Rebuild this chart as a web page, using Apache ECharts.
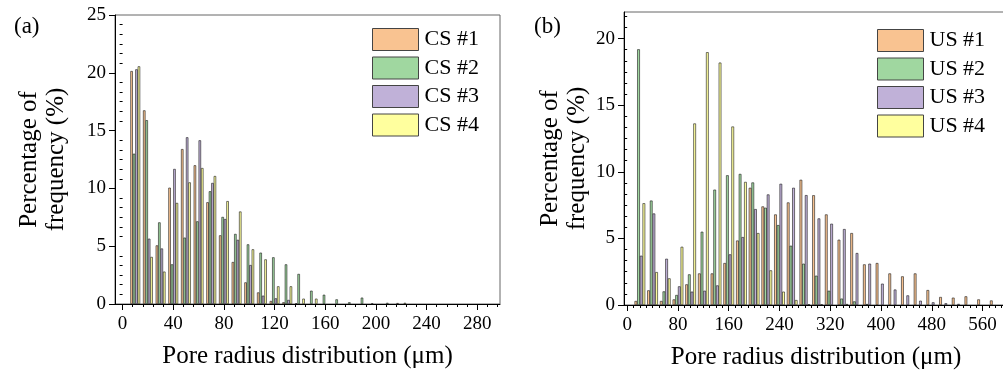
<!DOCTYPE html>
<html>
<head>
<meta charset="utf-8">
<script src="https://cdn.jsdelivr.net/npm/echarts@6/dist/echarts.min.js"></script>
<style>
  html, body { margin: 0; padding: 0; background: #fff; }
  #chart { width: 1003px; height: 373px; }
</style>
</head>
<body>
<div id="chart"></div>
<script>
// (a) CS samples, 10 um bins
const csBins = [10, 20, 30, 40, 50, 60, 70, 80, 90, 100, 110, 120, 130, 140, 150, 160, 170, 180, 190, 200, 210, 220]
const cs1 = [20.15, 16.75, 5.07, 10.06, 13.4, 12.0, 8.8, 5.94, 3.63, 1.87, 1.0, 0.26, 0.15, 0.06, 0, 0, 0, 0, 0, 0.05, 0, 0.08]
const cs2 = [13.0, 15.9, 7.06, 3.43, 5.74, 7.15, 9.75, 7.53, 6.06, 5.16, 4.44, 4.04, 3.43, 2.6, 1.15, 0.8, 0.4, 0.15, 0.55, 0, 0.1, 0]
const cs3 = [20.3, 5.65, 4.8, 11.68, 14.42, 14.16, 10.47, 7.35, 5.55, 3.37, 0.72, 0.49, 0.35, 0, 0, 0, 0, 0, 0, 0, 0, 0]
const cs4 = [20.56, 4.07, 2.8, 8.74, 10.52, 11.76, 11.07, 8.9, 8.0, 4.73, 3.86, 1.53, 1.53, 0.46, 0.46, 0, 0, 0, 0, 0, 0, 0.1]

// (b) US samples, 20 um bins
const usBins = [20, 40, 60, 80, 100, 120, 140, 160, 180, 200, 220, 240, 260, 280, 300, 320, 340, 360, 380, 400, 420, 440, 460, 480, 500, 520, 540, 560, 580]
const us1 = [0.3, 1.1, 0.3, 0.42, 1.55, 2.37, 2.37, 3.15, 4.84, 8.8, 7.4, 6.8, 7.7, 9.4, 8.24, 6.8, 4.9, 5.4, 3.05, 3.15, 2.37, 2.15, 2.37, 1.12, 0.6, 0.55, 0.65, 0.42, 0.34]
const us2 = [19.2, 7.84, 1.02, 0.75, 2.3, 5.5, 8.66, 9.74, 9.84, 9.2, 7.3, 6.0, 4.45, 3.1, 2.2, 1.07, 0.48, 0.27, 0.07, 0, 0, 0, 0, 0, 0, 0, 0, 0, 0]
const us3 = [3.7, 6.87, 3.47, 1.4, 1.0, 1.07, 1.47, 3.8, 5.1, 7.2, 8.3, 9.1, 8.8, 8.25, 6.5, 6.1, 5.7, 3.9, 3.1, 1.6, 1.16, 0.72, 0.32, 0.2, 0.13, 0.08, 0, 0, 0]
const us4 = [7.64, 2.47, 2.0, 4.37, 13.63, 18.98, 18.2, 13.4, 9.24, 5.4, 2.6, 1.0, 0.37, 0.05, 0.05, 0, 0.07, 0, 0, 0, 0, 0, 0, 0, 0, 0, 0, 0, 0]

const csRadiusTicks = [0, 40, 80, 120, 160, 200, 240, 280]
const usRadiusTicks = [0, 80, 160, 240, 320, 400, 480, 560]
const csPctTicks = [0, 5, 10, 15, 20, 25]
const usPctTicks = [0, 5, 10, 15, 20]

const csNames = ['CS #1', 'CS #2', 'CS #3', 'CS #4']
const usNames = ['US #1', 'US #2', 'US #3', 'US #4']
const colors = ['#f9c391', '#a0d7a0', '#c0b1d8', '#ffff9e']

const font = 'Liberation Serif, Times New Roman, serif'

// minor tick positions between the labelled ones
function minorValues(step, parts, max, majors) {
  const out = []
  for (let v = 0; v <= max + 1e-9; v += step / parts) {
    const r = Math.round(v * 1000) / 1000
    if (!majors.some((m) => Math.abs(m - r) < 1e-6)) out.push(r)
  }
  return out
}

function pairs(bins, values) {
  return bins.map((b, i) => [b, values[i]]).filter((p) => p[1] > 0)
}

function barSeries(name, bins, values, color, axisIndex, width) {
  return {
    name,
    type: 'bar',
    xAxisIndex: axisIndex,
    yAxisIndex: axisIndex,
    data: pairs(bins, values),
    barWidth: width,
    barGap: '0%',
    itemStyle: { color, borderColor: '#1a1a1a', borderWidth: 0.6 },
    emphasis: { disabled: true },
  }
}

function majorX(gridIndex, min, max, ticks) {
  return {
    type: 'value', gridIndex, min, max, position: 'bottom',
    name: 'Pore radius distribution (\u03bcm)',
    nameLocation: 'middle', nameGap: 40,
    nameTextStyle: { fontFamily: font, fontSize: 25, color: '#000' },
    axisLine: { show: true, onZero: false, lineStyle: { color: '#000', width: 1 } },
    axisTick: { show: true, length: 6, customValues: ticks, lineStyle: { color: '#000' } },
    axisLabel: { customValues: ticks, margin: 11, fontFamily: font, fontSize: 19, color: '#000' },
    splitLine: { show: false },
  }
}

function minorX(gridIndex, min, max, ticks) {
  return {
    type: 'value', gridIndex, min, max, position: 'bottom',
    axisLine: { show: false },
    axisTick: { show: true, length: 3, customValues: ticks, lineStyle: { color: '#000' } },
    axisLabel: { show: false },
    splitLine: { show: false },
  }
}

function majorY(gridIndex, max, ticks, nameGap) {
  return {
    type: 'value', gridIndex, min: 0, max, position: 'left',
    name: 'Percentage of\nfrequency (%)',
    nameLocation: 'middle', nameGap, nameRotate: 90,
    nameTextStyle: { fontFamily: font, fontSize: 25, color: '#000', lineHeight: 27 },
    axisLine: { show: true, onZero: false, lineStyle: { color: '#000', width: 1 } },
    axisTick: { show: true, length: 6, customValues: ticks, lineStyle: { color: '#000' } },
    axisLabel: { customValues: ticks, margin: 9, fontFamily: font, fontSize: 19, color: '#000' },
    splitLine: { show: false },
  }
}

function minorY(gridIndex, max, ticks) {
  return {
    type: 'value', gridIndex, min: 0, max, position: 'left',
    axisLine: { show: false },
    axisTick: { show: true, length: 3, customValues: ticks, lineStyle: { color: '#000' } },
    axisLabel: { show: false },
    splitLine: { show: false },
  }
}

function legendFor(names, left, top) {
  return {
    data: names, orient: 'vertical', left, top, padding: 0,
    icon: 'rect', itemWidth: 46, itemHeight: 22, itemGap: 5.5,
    itemStyle: { borderColor: '#444', borderWidth: 1 },
    textStyle: { fontFamily: font, fontSize: 22, color: '#000', padding: [0, 0, 0, 1] },
  }
}

const chart = echarts.init(document.getElementById('chart'), null, { renderer: 'canvas' })

chart.setOption({
  animation: false,
  backgroundColor: '#fff',
  title: [
    { text: '(a)', left: 9, top: 10, textStyle: { fontFamily: font, fontSize: 23, fontWeight: 'normal', color: '#000' } },
    { text: '(b)', left: 529, top: 10, textStyle: { fontFamily: font, fontSize: 23, fontWeight: 'normal', color: '#000' } },
  ],
  legend: [legendFor(csNames, 372, 28), legendFor(usNames, 877, 29)],
  grid: [
    { left: 115, top: 15, width: 385, height: 289, show: true, borderColor: '#666', borderWidth: 1, containLabel: false, outerBoundsMode: 'none' },
    { left: 624, top: 12, width: 384, height: 293, show: true, borderColor: '#666', borderWidth: 1, containLabel: false, outerBoundsMode: 'none' },
  ],
  xAxis: [
    majorX(0, -6, 298, csRadiusTicks),
    minorX(0, -6, 298, minorValues(40, 5, 296, csRadiusTicks)),
    majorX(1, -5, 600, usRadiusTicks),
    minorX(1, -5, 600, minorValues(80, 8, 600, usRadiusTicks)),
  ],
  yAxis: [
    majorY(0, 25, csPctTicks, 45),
    minorY(0, 25, minorValues(5, 6, 25, csPctTicks)),
    majorY(1, 22, usPctTicks, 33),
    minorY(1, 22, minorValues(5, 6, 22, usPctTicks)),
  ],
  series: [
    barSeries(csNames[0], csBins, cs1, colors[0], 0, 2.45),
    barSeries(csNames[1], csBins, cs2, colors[1], 0, 2.45),
    barSeries(csNames[2], csBins, cs3, colors[2], 0, 2.45),
    barSeries(csNames[3], csBins, cs4, colors[3], 0, 2.45),
    barSeries(usNames[0], usBins, us1, colors[0], 2, 2.67),
    barSeries(usNames[1], usBins, us2, colors[1], 2, 2.67),
    barSeries(usNames[2], usBins, us3, colors[2], 2, 2.67),
    barSeries(usNames[3], usBins, us4, colors[3], 2, 2.67),
  ],
})
</script>
</body>
</html>
